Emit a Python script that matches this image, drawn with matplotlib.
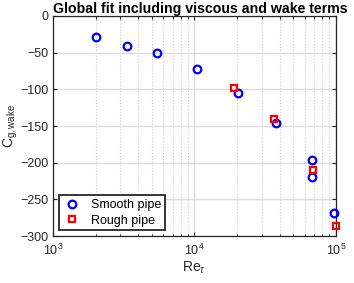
import numpy as np
import matplotlib
matplotlib.use('Agg')
import matplotlib.pyplot as plt

plt.rcParams['font.family'] = ['Liberation Sans', 'DejaVu Sans']
plt.rcParams['mathtext.fontset'] = 'custom'
plt.rcParams['mathtext.rm'] = 'Liberation Sans'
plt.rcParams['mathtext.it'] = 'Liberation Sans:italic'

# smooth pipe data
smooth_re = [2000, 3330, 5420, 10430, 20200, 37500, 67600, 67600, 96700]
smooth_c = [-29, -40.5, -51, -72.7, -105, -145.5, -196.4, -220, -268]

# rough pipe data
rough_re = [19150, 36300, 68400, 99400]
rough_c = [-98.6, -140.5, -210, -286]

fig = plt.figure(figsize=(3.54, 2.83), dpi=100)
ax = fig.add_axes([0.1497, 0.166, 0.7993, 0.7775])

ax.semilogx(smooth_re, smooth_c, 'o', color='blue', mfc='none', mew=1.6,
            markersize=5.5, label='Smooth pipe', zorder=3, clip_on=False)
ax.semilogx(rough_re, rough_c, 's', color='red', mfc='none', mew=1.6,
            markersize=4.5, label='Rough pipe', zorder=3, clip_on=False)

ax.set_xlim(1e3, 1e5)
ax.set_ylim(-300, 0)
ax.set_yticks(np.arange(-300, 1, 50))

ax.grid(True, which='major', color='#dcdcdc', linewidth=1.0, linestyle='-')
ax.grid(True, which='minor', color='#c8c8c8', linewidth=0.8, linestyle=':')
ax.set_axisbelow(True)

ax.tick_params(which='both', direction='in', top=True, right=True,
               labelsize=9, colors='#262626', width=0.8)
ax.tick_params(which='major', length=3)
ax.tick_params(which='minor', length=1.8)
ax.tick_params(axis='x', pad=5)
for s in ax.spines.values():
    s.set_color('#262626')
    s.set_linewidth(0.9)

ax.set_title('Global fit including viscous and wake terms', fontsize=10.2,
             fontweight='bold', pad=2, x=0.52)
ax.set_xlabel(r'Re$_\tau$', fontsize=10, color='#262626', labelpad=1)
ax.set_ylabel(r'C$_{\rm g,wake}$', fontsize=10, color='#262626', labelpad=0)

leg = ax.legend(loc='lower left', fontsize=9, fancybox=False,
                edgecolor='#262626', framealpha=1, borderaxespad=0.45,
                handletextpad=0.7, borderpad=0.3, labelspacing=0.3,
                handlelength=1.6)
leg.get_frame().set_linewidth(1.3)

fig.savefig('out.png', dpi=100)
